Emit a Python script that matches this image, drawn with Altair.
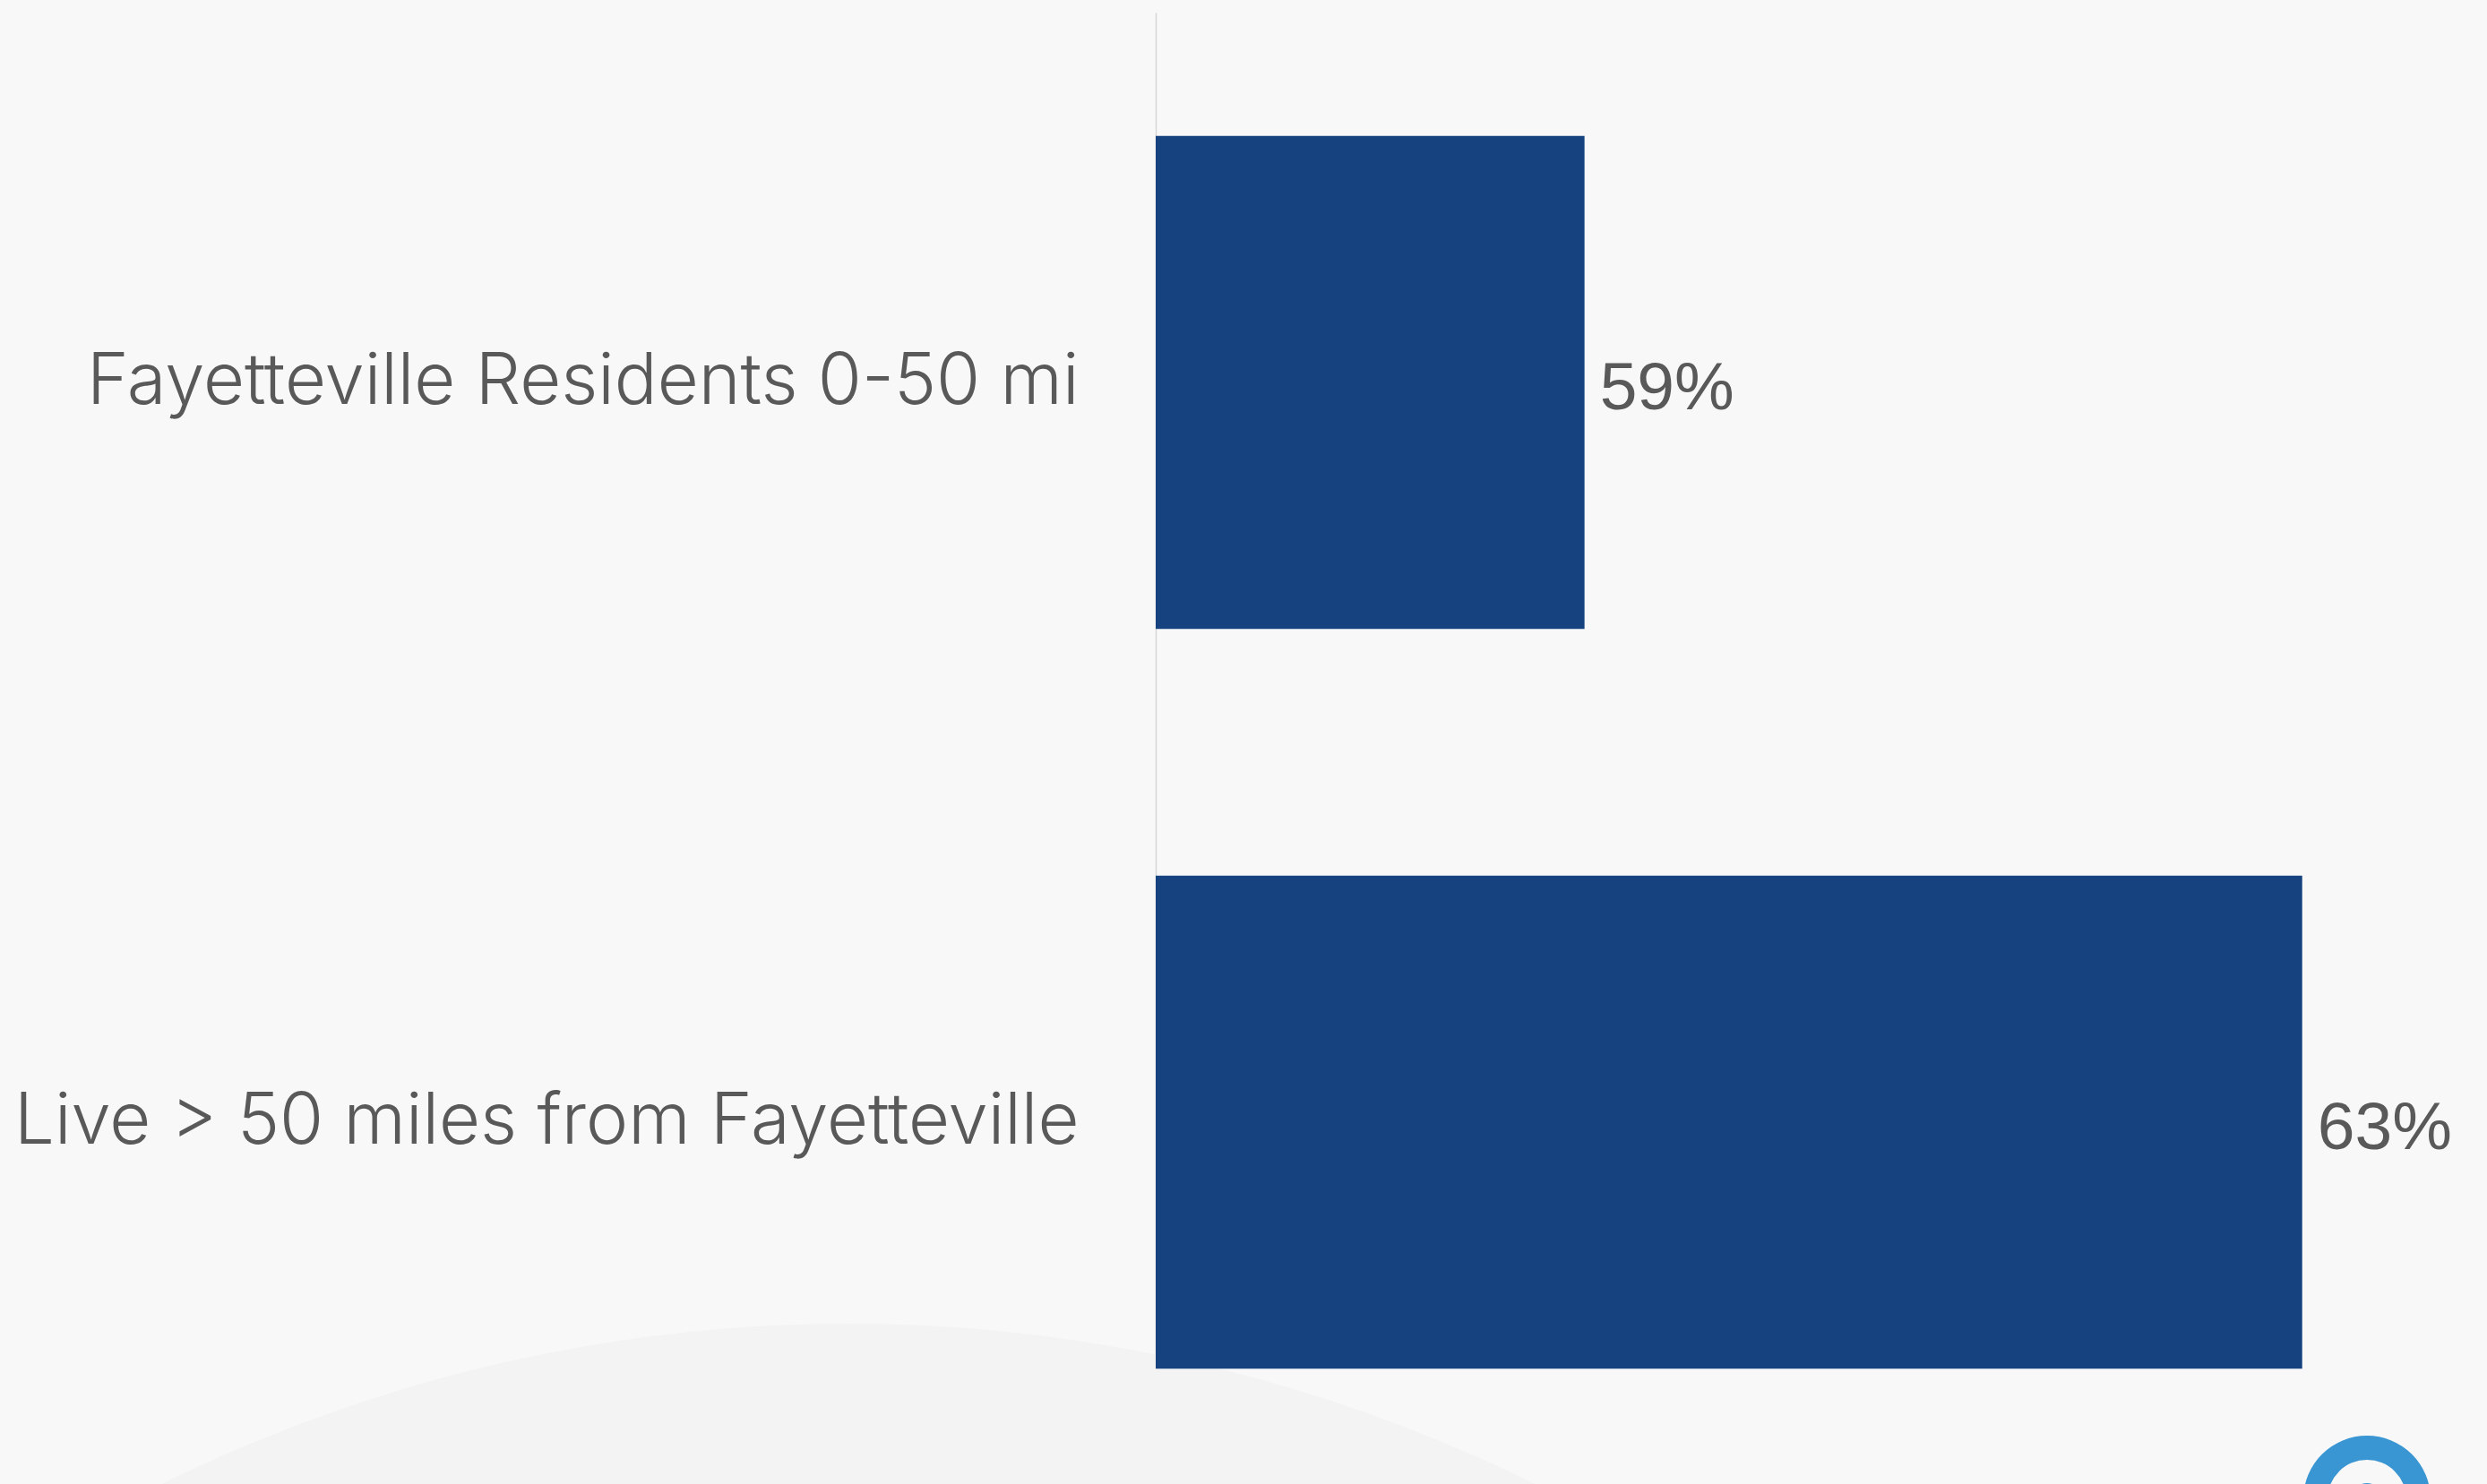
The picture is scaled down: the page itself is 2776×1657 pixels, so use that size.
import altair as alt
import pandas as pd

# Survey shares by distance from Fayetteville
categories = ["Fayetteville Residents 0-50 mi", "Live > 50 miles from Fayetteville"]
values = [59, 63]
labels = [f"{v}%" for v in values]

X_DOMAIN = [56.61, 64.03]
BLUE = "#16427f"
TEXT = "#595959"
PAPER = "#f8f8f8"

table = pd.DataFrame({"category": categories, "value": values, "label": labels})
one_row = pd.DataFrame({"n": [0]})

# Faint backdrop shape and the ring emblem in the corner
backdrop = alt.Chart(one_row).mark_arc(
    theta=0, theta2=6.2832, outerRadius=1730, innerRadius=0, color="#f3f3f3"
).encode(x=alt.value(-343), y=alt.value(3194))

ring = alt.Chart(one_row).mark_arc(
    theta=0, theta2=6.2832, outerRadius=71, innerRadius=44, color="#3a96d3"
).encode(x=alt.value(1352), y=alt.value(1660))

ring_core = alt.Chart(one_row).mark_arc(
    theta=0, theta2=6.2832, outerRadius=18, innerRadius=0, color="#3a96d3"
).encode(x=alt.value(1352), y=alt.value(1660))

x_scale = alt.Scale(domain=X_DOMAIN, clamp=True, nice=False, zero=False)
y_scale = alt.Scale(domain=categories, range=[0, 1652], paddingInner=1 / 3, paddingOuter=1 / 6)

y_enc = alt.Y(
    "category:N",
    scale=y_scale,
    sort=None,
    title=None,
    axis=alt.Axis(
        ticks=False,
        grid=False,
        domain=True,
        domainColor="#d6d6d6",
        domainWidth=1.5,
        labelFont="Inter",
        labelFontWeight=300,
        labelFontSize=79.5,
        labelColor=TEXT,
        labelPadding=86,
        labelLimit=1300,
    ),
)

bars = alt.Chart(table).mark_bar(color=BLUE).encode(
    x=alt.X("value:Q", scale=x_scale, axis=None),
    x2=alt.value(0),
    y=y_enc,
)

texts = alt.Chart(table).mark_text(
    align="left",
    baseline="middle",
    dx=17,
    dy=7,
    font="Liberation Sans",
    fontSize=75,
    color=TEXT,
).encode(
    x=alt.X("value:Q", scale=x_scale, axis=None),
    y=alt.Y("category:N", scale=y_scale, sort=None, title=None),
    text="label:N",
)

chart = alt.layer(backdrop, ring, ring_core, bars, texts).properties(
    width=1486,
    height=1643,
    background=PAPER,
    padding={"left": 1290, "top": 14, "right": 0, "bottom": 0},
    autosize=alt.AutoSizeParams(type="none"),
).configure_view(stroke=None)

chart.save("out.html", embed_options={"renderer": "svg", "actions": False})
